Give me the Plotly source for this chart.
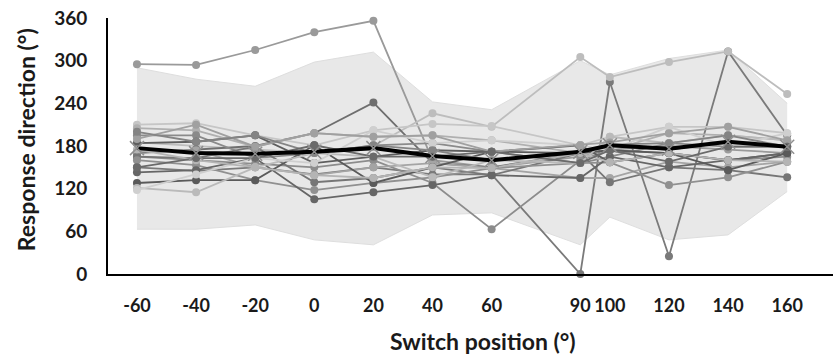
import plotly.graph_objects as go

# Switch positions (deg)
switch_pos = [-60, -40, -20, 0, 20, 40, 60, 90, 100, 120, 140, 160]
tick_labels = ["-60", "-40", "-20", "0", "20", "40", "60", "90", "100", "120", "140", "160"]
y_ticks = [0, 60, 120, 180, 240, 300, 360]

# Shaded range (upper / lower)
band_upper = [290, 274, 264, 298, 312, 242, 231, 300, 280, 303, 315, 240]
band_lower = [63, 63, 69, 48, 41, 83, 86, 41, 80, 48, 55, 116]

# Mean response
mean_resp = [177, 170, 169, 172, 177, 166, 160, 172, 181, 176, 186, 179]

# Individual participants
subj_01 = [295, 294, 315, 340, 356, 160, 150, 165, 175, 180, 175, 170]
subj_02 = [150, 145, 150, 140, 150, 140, 140, 0, 270, 25, 313, 195]
subj_03 = [185, 180, 175, 170, 180, 226, 207, 305, 277, 298, 313, 253]
subj_04 = [165, 160, 155, 150, 160, 128, 63, 160, 174, 170, 160, 165]
subj_05 = [170, 175, 180, 198, 241, 156, 150, 170, 180, 175, 185, 180]
subj_06 = [210, 212, 195, 181, 202, 211, 208, 181, 193, 207, 207, 198]
subj_07 = [205, 202, 179, 198, 193, 195, 188, 170, 174, 198, 195, 188]
subj_08 = [195, 195, 163, 170, 181, 184, 172, 156, 165, 184, 179, 179]
subj_09 = [184, 186, 195, 156, 165, 174, 172, 181, 157, 170, 160, 170]
subj_10 = [172, 174, 150, 139, 150, 156, 149, 135, 135, 158, 150, 158]
subj_11 = [165, 163, 179, 129, 135, 150, 139, 170, 129, 150, 146, 136]
subj_12 = [160, 153, 132, 118, 128, 136, 149, 156, 157, 125, 136, 158]
subj_13 = [143, 146, 163, 105, 115, 125, 139, 135, 165, 150, 160, 170]
subj_14 = [128, 132, 132, 181, 128, 150, 172, 170, 174, 170, 146, 170]
subj_15 = [121, 115, 150, 170, 165, 136, 160, 156, 193, 184, 195, 188]
subj_16 = [118, 140, 163, 156, 202, 184, 188, 181, 174, 207, 179, 198]
subj_17 = [190, 210, 179, 198, 193, 195, 172, 181, 185, 198, 207, 188]
subj_18 = [200, 186, 195, 170, 181, 174, 160, 170, 182, 184, 195, 179]
subj_19 = [175, 160, 150, 139, 135, 150, 149, 170, 157, 170, 160, 158]
subj_20 = [150, 163, 163, 181, 165, 165, 172, 156, 174, 158, 179, 179]

subjects = [subj_01, subj_02, subj_03, subj_04, subj_05, subj_06, subj_07, subj_08,
            subj_09, subj_10, subj_11, subj_12, subj_13, subj_14, subj_15, subj_16,
            subj_17, subj_18, subj_19, subj_20]
grays = ["#9a9a9a", "#7a7a7a", "#bdbdbd", "#8c8c8c", "#6e6e6e", "#c6c6c6", "#b0b0b0",
         "#8a8a8a", "#5e5e5e", "#a4a4a4", "#767676", "#909090", "#666666", "#5a5a5a",
         "#bababa", "#cfcfcf", "#a0a0a0", "#848484", "#b4b4b4", "#6a6a6a"]

fig = go.Figure()

fig.add_trace(go.Scatter(x=switch_pos, y=band_lower, mode="lines",
                         line=dict(color="#dedede", width=1), showlegend=False, hoverinfo="skip"))
fig.add_trace(go.Scatter(x=switch_pos, y=band_upper, mode="lines", fill="tonexty",
                         fillcolor="#e8e8e8", line=dict(color="#dedede", width=1),
                         showlegend=False, hoverinfo="skip"))

for vals, col in zip(subjects, grays):
    fig.add_trace(go.Scatter(x=switch_pos, y=vals, mode="lines+markers",
                             line=dict(color=col, width=1.8),
                             marker=dict(color=col, size=8),
                             cliponaxis=False, showlegend=False))

fig.add_trace(go.Scatter(x=switch_pos, y=mean_resp, mode="lines+markers",
                         line=dict(color="#000000", width=4),
                         marker=dict(symbol="x-thin", size=14,
                                     line=dict(color="#8f8f8f", width=1.5)),
                         showlegend=False))

fig.update_layout(
    width=833, height=355,
    margin=dict(l=108, r=0, t=18, b=81),
    paper_bgcolor="white", plot_bgcolor="white",
    font=dict(family="Lato, Open Sans, sans-serif", color="#1a1a1a"),
    showlegend=False,
)
fig.update_xaxes(
    range=[-69.8, 175.5], tickvals=switch_pos, ticktext=tick_labels, tickangle=0,
    showgrid=False, zeroline=False, showline=True, linecolor="#000000", linewidth=2,
    ticks="outside", ticklen=14, tickcolor="rgba(0,0,0,0)",
    tickfont=dict(size=18, weight="bold"),
)
fig.update_yaxes(
    range=[0, 360], tickvals=y_ticks,
    showgrid=False, zeroline=False, showline=True, linecolor="#000000", linewidth=2,
    ticks="outside", ticklen=15, tickcolor="rgba(0,0,0,0)",
    tickfont=dict(size=19, weight="bold"),
)
fig.add_annotation(text="Switch position (°)", xref="paper", yref="paper",
                   x=0.5172, y=-0.262, xanchor="center", yanchor="middle",
                   showarrow=False, font=dict(size=23, weight="bold"))
fig.add_annotation(text="Response direction (°)", xref="paper", yref="paper",
                   x=-0.113, y=0.523, xanchor="center", yanchor="middle", textangle=-90,
                   showarrow=False, font=dict(size=23, weight="bold"))

fig.write_html("out.html")
